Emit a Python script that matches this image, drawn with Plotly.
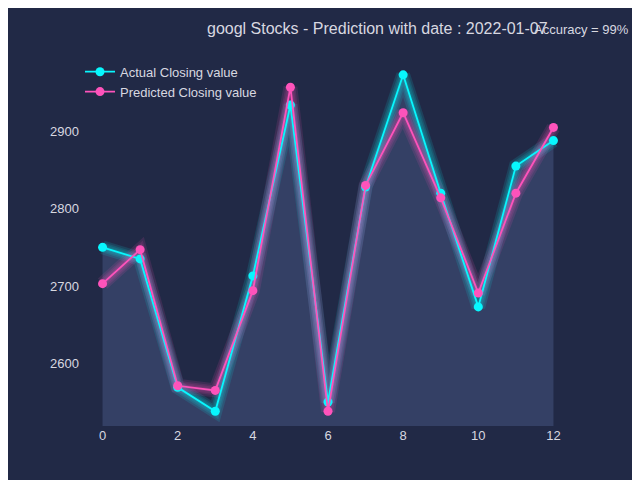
import plotly.graph_objects as go

days = list(range(13))
actual = [2750, 2735, 2569, 2538, 2713, 2934, 2550, 2828, 2973, 2820, 2673, 2855, 2888]
predicted = [2703, 2747, 2571, 2565, 2694, 2957, 2538, 2830, 2924, 2814, 2691, 2820, 2905]

bg = "#212946"
cyan = "#08F7FE"
pink = "#FE53BB"
y_min = 2519

fig = go.Figure()

# area under actual line
fig.add_trace(go.Scatter(x=days, y=[y_min] * len(days), mode="lines",
                         line=dict(width=0), showlegend=False, hoverinfo="skip"))
fig.add_trace(go.Scatter(x=days, y=actual, mode="lines", fill="tonexty",
                         fillcolor="rgba(90,110,160,0.35)", line=dict(width=0),
                         showlegend=False, hoverinfo="skip"))

# glow effect
for series, col in [(actual, "8,247,254"), (predicted, "254,83,187")]:
    for w in [14, 10, 7, 4]:
        fig.add_trace(go.Scatter(x=days, y=series, mode="lines",
                                 line=dict(color=f"rgba({col},0.12)", width=w),
                                 showlegend=False, hoverinfo="skip"))

fig.add_trace(go.Scatter(x=days, y=actual, mode="lines+markers", name="Actual Closing value",
                         line=dict(color=cyan, width=1.8), marker=dict(size=9, color=cyan)))
fig.add_trace(go.Scatter(x=days, y=predicted, mode="lines+markers", name="Predicted Closing value",
                         line=dict(color=pink, width=1.8), marker=dict(size=9, color=pink)))

fig.update_layout(
    width=640, height=480,
    paper_bgcolor=bg, plot_bgcolor=bg,
    font=dict(family="Liberation Sans", color="#d8d8e0", size=13),
    margin=dict(l=72, r=72, t=56, b=62),
    legend=dict(x=0.0, y=1.02, bgcolor="rgba(0,0,0,0)", traceorder="normal",
                font=dict(size=13)),
    xaxis=dict(range=[-0.6, 12.6], tickvals=list(range(0, 13, 2)), showgrid=False,
               zeroline=False, showline=False),
    yaxis=dict(range=[y_min, 2987], tickvals=[2600, 2700, 2800, 2900], showgrid=False,
               zeroline=False, showline=False),
    annotations=[
        dict(text="googl Stocks - Prediction with date : 2022-01-07", xref="paper", yref="paper",
             x=0.6, y=1.07, xanchor="center", yanchor="bottom", showarrow=False,
             font=dict(size=16)),
        dict(text="Accuracy = 99%", xref="paper", yref="paper", x=1.11, y=1.07,
             xanchor="right", yanchor="bottom", showarrow=False, font=dict(size=13)),
    ],
)

fig.write_html("out.html")
